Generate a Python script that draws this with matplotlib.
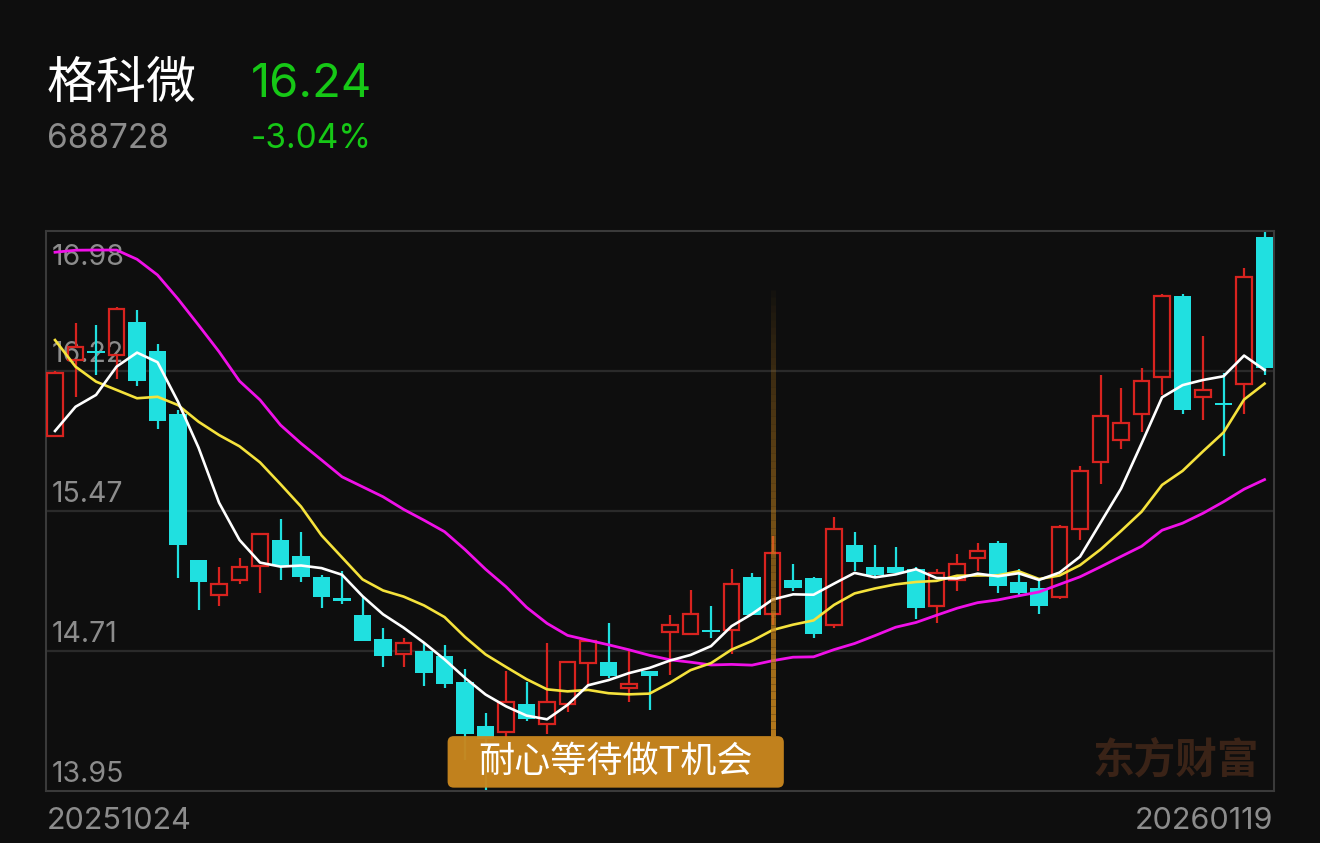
import matplotlib
matplotlib.use('Agg')
import matplotlib.pyplot as plt
from matplotlib.patches import Rectangle, FancyBboxPatch
from matplotlib import transforms

plt.rcParams['font.family'] = ['Noto Sans CJK SC', 'DejaVu Sans']
NUM_FONT = ['Inter', 'DejaVu Sans']

# ---- header / labels ----
name = '格科微'
code = '688728'
last_price = '16.24'
change_pct = '-3.04%'
start_date = '20251024'
end_date = '20260119'
signal_text = '耐心等待做T机会'
watermark = '东方财富'

# ---- daily candles, 2025-10-24 .. 2026-01-19 ----
opens = [15.87, 16.28, 16.33, 16.31, 16.49, 16.33, 15.99, 15.20, 15.01, 15.09,
         15.17, 15.31, 15.22, 15.11, 14.99, 14.90, 14.77, 14.69, 14.71, 14.68,
         14.54, 14.30, 14.27, 14.42, 14.31, 14.42, 14.64, 14.65, 14.51, 14.60,
         14.81, 14.80, 14.82, 14.82, 15.11, 14.91, 15.09, 15.10, 14.85, 15.28,
         15.16, 15.16, 15.15, 14.95, 15.09, 15.21, 15.29, 15.08, 15.05, 15.00,
         15.37, 15.73, 15.85, 15.99, 16.19, 16.63, 16.08, 16.05, 16.15, 16.95]
highs = [16.22, 16.48, 16.47, 16.57, 16.55, 16.37, 16.01, 15.20, 15.16, 15.21,
         15.34, 15.42, 15.35, 15.12, 15.14, 15.00, 14.83, 14.78, 14.75, 14.74,
         14.61, 14.37, 14.60, 14.54, 14.75, 14.65, 14.76, 14.86, 14.71, 14.60,
         14.90, 15.04, 14.95, 15.15, 15.13, 15.33, 15.18, 15.11, 15.43, 15.35,
         15.28, 15.27, 15.16, 15.15, 15.23, 15.29, 15.30, 15.15, 15.09, 15.39,
         15.71, 16.20, 16.13, 16.24, 16.64, 16.64, 16.41, 16.21, 16.78, 16.98]
lows = [15.87, 16.08, 16.20, 16.18, 16.14, 15.91, 15.10, 14.93, 14.95, 15.07,
        15.02, 15.09, 15.08, 14.94, 14.96, 14.76, 14.62, 14.62, 14.52, 14.51,
        14.12, 13.95, 14.23, 14.33, 14.26, 14.38, 14.52, 14.56, 14.43, 14.39,
        14.58, 14.80, 14.78, 14.69, 14.90, 14.85, 15.03, 14.78, 14.83, 15.14,
        15.10, 15.13, 14.88, 14.86, 15.03, 15.14, 15.02, 15.01, 14.91, 14.99,
        15.31, 15.61, 15.80, 15.89, 16.09, 15.99, 15.96, 15.76, 15.99, 16.20]
closes = [16.21, 16.35, 16.32, 16.56, 16.17, 15.95, 15.28, 15.08, 15.07, 15.16,
          15.34, 15.17, 15.11, 15.00, 14.98, 14.76, 14.68, 14.75, 14.59, 14.53,
          14.26, 14.23, 14.43, 14.34, 14.43, 14.65, 14.76, 14.57, 14.53, 14.57,
          14.85, 14.91, 14.81, 15.07, 14.90, 15.24, 15.05, 14.80, 15.37, 15.19,
          15.12, 15.13, 14.94, 15.13, 15.18, 15.25, 15.06, 15.02, 14.95, 15.38,
          15.68, 15.98, 15.94, 16.17, 16.63, 16.01, 16.12, 16.04, 16.73, 16.24]

ma5 = [15.898, 16.029, 16.093, 16.246, 16.322, 16.27, 16.056, 15.808, 15.51, 15.308,
       15.186, 15.164, 15.17, 15.156, 15.12, 15.004, 14.906, 14.834, 14.752, 14.662,
       14.562, 14.472, 14.408, 14.358, 14.338, 14.416, 14.522, 14.55, 14.588, 14.616,
       14.656, 14.686, 14.734, 14.842, 14.908, 14.986, 15.014, 15.012, 15.072, 15.13,
       15.106, 15.122, 15.15, 15.102, 15.10, 15.126, 15.112, 15.128, 15.092, 15.132,
       15.218, 15.402, 15.586, 15.83, 16.08, 16.146, 16.174, 16.194, 16.306, 16.228]
ma10 = [16.39, 16.246, 16.165, 16.12, 16.075, 16.083, 16.038, 15.948, 15.876, 15.815,
        15.728, 15.61, 15.489, 15.333, 15.214, 15.095, 15.035, 15.002, 14.954, 14.891,
        14.783, 14.689, 14.621, 14.555, 14.5, 14.489, 14.497, 14.479, 14.473, 14.477,
        14.536, 14.604, 14.642, 14.715, 14.762, 14.821, 14.85, 14.873, 14.957, 15.019,
        15.046, 15.068, 15.081, 15.087, 15.115, 15.116, 15.117, 15.139, 15.097, 15.116,
        15.172, 15.257, 15.357, 15.461, 15.606, 15.682, 15.788, 15.89, 16.068, 16.154]
ma20 = [16.865, 16.876, 16.877, 16.877, 16.827, 16.742, 16.612, 16.471, 16.327, 16.168,
        16.066, 15.93, 15.831, 15.741, 15.65, 15.596, 15.542, 15.474, 15.415, 15.353,
        15.256, 15.15, 15.055, 14.944, 14.857, 14.792, 14.766, 14.741, 14.714, 14.684,
        14.66, 14.647, 14.632, 14.635, 14.631, 14.655, 14.674, 14.676, 14.715, 14.748,
        14.791, 14.836, 14.862, 14.901, 14.939, 14.969, 14.984, 15.006, 15.027, 15.068,
        15.109, 15.163, 15.219, 15.274, 15.361, 15.399, 15.453, 15.515, 15.583, 15.635]

y_ticks = [16.98, 16.2225, 15.465, 14.7075, 13.95]
y_tick_labels = ['16.98', '16.22', '15.47', '14.71', '13.95']
signal_idx = 35

BG = '#0e0e0e'
RED = '#d8231f'
CYAN = '#20e0e0'
GREEN = '#16c816'
GRAY = '#8c8c8c'
ORANGE = '#c8861e'

W, H = 1320, 843
fig = plt.figure(figsize=(W / 100, H / 100), dpi=100, facecolor=BG)
ax = fig.add_axes([46 / W, 1 - 791 / H, (1274 - 46) / W, (791 - 231) / H])
ax.set_facecolor(BG)
n = len(closes)
ax.set_xlim(-0.44, n - 0.54)
ax.set_ylim(min(lows), max(highs))
ax.set_xticks([])
ax.set_yticks([])
for s in ax.spines.values():
    s.set_color('#3a3a3a')
    s.set_linewidth(1.5)

for v in y_ticks[1:-1]:
    ax.axhline(v, color='#2a2a2a', lw=1.6, zorder=0)

# y labels inside the plot
lab_tr = transforms.offset_copy(ax.get_yaxis_transform(), fig=fig, x=6, y=9, units='dots')
top_tr = transforms.offset_copy(ax.get_yaxis_transform(), fig=fig, x=6, y=-34, units='dots')
for i, (v, t) in enumerate(zip(y_ticks, y_tick_labels)):
    ax.text(0, v, t, transform=top_tr if i == 0 else lab_tr, color=GRAY, family=NUM_FONT,
            fontsize=20.5, va='baseline', ha='left', zorder=1)

# candles (red = up, hollow; cyan = down, filled)
for i in range(n):
    o, h, l, c = opens[i], highs[i], lows[i], closes[i]
    up = c >= o
    bottom = min(o, c)
    top = max(o, c)
    height = max(top - bottom, 0.012)
    if up:
        ax.vlines(i, top, h, color=RED, lw=1.6, zorder=2)
        ax.vlines(i, l, bottom, color=RED, lw=1.6, zorder=2)
        ax.add_patch(Rectangle((i - 0.373, bottom), 0.746, height, facecolor='none',
                               edgecolor=RED, lw=1.6, zorder=3))
    else:
        ax.vlines(i, l, h, color=CYAN, lw=1.6, zorder=2)
        ax.add_patch(Rectangle((i - 0.427, bottom), 0.854, height, facecolor=CYAN,
                               edgecolor='none', zorder=3))

x = list(range(n))
ax.plot(x, ma20, color='#f010e8', lw=2.0, zorder=4)
ax.plot(x, ma10, color='#f5e23c', lw=1.9, zorder=4)
ax.plot(x, ma5, color='white', lw=1.9, zorder=4)

# signal marker: fading vertical line + label box
blend = transforms.blended_transform_factory(ax.transData, ax.transAxes)
line_top, line_bottom = 0.895, 0.098
steps = 60
for k in range(steps):
    y0 = line_top + (line_bottom - line_top) * k / steps
    y1 = line_top + (line_bottom - line_top) * (k + 1) / steps
    ax.plot([signal_idx, signal_idx], [y0, y1], transform=blend, color=ORANGE,
            lw=3.6, alpha=0.9 * ((k + 1) / steps) ** 0.8, solid_capstyle='butt', zorder=5)

box_left, box_right = signal_idx - 15.85, signal_idx + 0.55
box_bottom, box_top = 0.006, 0.098
px_x = ax.get_position().width * W / (ax.get_xlim()[1] - ax.get_xlim()[0])
px_y = ax.get_position().height * H
ax.add_patch(FancyBboxPatch((box_left, box_bottom), box_right - box_left, box_top - box_bottom,
                            boxstyle='round,pad=0,rounding_size=0.3', mutation_aspect=px_x / px_y,
                            transform=blend, facecolor=ORANGE, edgecolor='none', alpha=0.97, zorder=6))
ax.text((box_left + box_right) / 2, (box_bottom + box_top) / 2, signal_text, transform=blend,
        color='white', fontsize=26, ha='center', va='center', zorder=7)

ax.text(0.988, 0.033, watermark, transform=ax.transAxes, color='#3a2317', fontsize=30,
        fontweight='bold', ha='right', va='baseline', zorder=1)

# header
fig.text(47 / W, 1 - 98 / H, name, color='white', fontsize=36, va='baseline')
fig.text(251 / W, 1 - 97 / H, last_price, color=GREEN, fontsize=34, va='baseline', family=NUM_FONT)
fig.text(47 / W, 1 - 148 / H, code, color=GRAY, fontsize=24, va='baseline', family=NUM_FONT)
fig.text(251 / W, 1 - 148 / H, change_pct, color=GREEN, fontsize=24, va='baseline', family=NUM_FONT)

fig.text(47 / W, 1 - 829 / H, start_date, color=GRAY, fontsize=22, va='baseline', family=NUM_FONT)
fig.text(1273 / W, 1 - 829 / H, end_date, color=GRAY, fontsize=22, va='baseline', ha='right',
         family=NUM_FONT)

fig.savefig('out.png', dpi=100, facecolor=BG)
